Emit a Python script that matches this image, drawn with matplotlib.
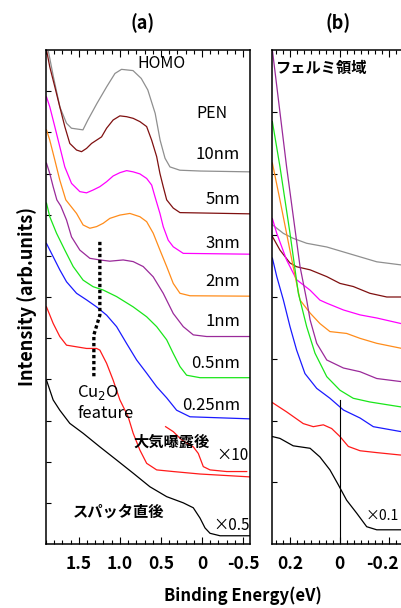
import matplotlib
matplotlib.use('Agg')
import matplotlib.pyplot as plt
from matplotlib.ticker import FixedLocator, MultipleLocator
from matplotlib.transforms import ScaledTranslation

plt.rcParams['font.family'] = ['Noto Sans CJK JP', 'DejaVu Sans']

# ---------------- panel (a): valence band, binding energy (eV) vs intensity ----------------
a_gray_e = [1.87, 1.81, 1.73, 1.65, 1.59, 1.45, 1.39, 1.28, 1.16, 1.06, 0.98, 0.84, 0.74, 0.66, 0.57, 0.51, 0.45, 0.39, 0.27, 0.02, -0.585]
a_gray_i = [11.96, 11.35, 10.61, 10.22, 10.10, 10.06, 10.30, 10.70, 11.11, 11.43, 11.53, 11.50, 11.31, 11.03, 10.46, 9.81, 9.37, 9.16, 9.08, 9.06, 9.04]

a_brown_e = [1.894, 1.854, 1.793, 1.732, 1.671, 1.610, 1.528, 1.467, 1.406, 1.345, 1.284, 1.223, 1.162, 1.082, 1.0, 0.918, 0.838, 0.756, 0.674, 0.613, 0.552, 0.512, 0.472, 0.430, 0.350, 0.268, -0.585]
a_brown_i = [12.0, 11.59, 11.11, 10.62, 10.14, 9.73, 9.57, 9.53, 9.61, 9.73, 9.81, 9.89, 10.10, 10.30, 10.40, 10.38, 10.34, 10.26, 10.14, 9.81, 9.41, 9.00, 8.68, 8.36, 8.16, 8.05, 8.02]

a_mag_e = [1.894, 1.854, 1.793, 1.732, 1.671, 1.589, 1.488, 1.406, 1.325, 1.244, 1.162, 1.082, 1.0, 0.918, 0.838, 0.756, 0.674, 0.613, 0.573, 0.512, 0.472, 0.411, 0.350, 0.228, -0.585]
a_mag_i = [10.86, 10.62, 10.14, 9.65, 9.16, 8.76, 8.56, 8.53, 8.60, 8.68, 8.80, 8.94, 9.02, 9.07, 9.04, 8.99, 8.88, 8.72, 8.44, 8.03, 7.71, 7.38, 7.22, 7.06, 7.04]

a_orange_e = [1.894, 1.854, 1.793, 1.732, 1.659, 1.528, 1.448, 1.366, 1.284, 1.204, 1.122, 1.0, 0.878, 0.756, 0.674, 0.594, 0.512, 0.430, 0.350, 0.268, 0.146, -0.585]
a_orange_i = [10.06, 9.81, 9.33, 8.84, 8.36, 8.03, 7.75, 7.67, 7.71, 7.79, 7.91, 7.99, 8.03, 7.95, 7.83, 7.55, 7.14, 6.74, 6.33, 6.09, 6.03, 6.02]

a_purple_e = [1.894, 1.854, 1.813, 1.768, 1.72, 1.650, 1.589, 1.488, 1.366, 1.244, 1.122, 0.960, 0.838, 0.716, 0.594, 0.472, 0.350, 0.228, 0.106, -0.057, -0.585]
a_purple_i = [9.25, 9.00, 8.68, 8.36, 8.21, 7.87, 7.46, 7.14, 6.94, 6.90, 6.87, 6.90, 6.86, 6.74, 6.49, 6.09, 5.60, 5.28, 5.08, 5.04, 5.04]

a_green_e = [1.894, 1.854, 1.772, 1.671, 1.569, 1.448, 1.326, 1.204, 1.040, 0.838, 0.674, 0.552, 0.430, 0.350, 0.268, 0.187, 0.024, -0.585]
a_green_i = [8.28, 7.95, 7.55, 7.14, 6.74, 6.41, 6.25, 6.17, 6.01, 5.76, 5.52, 5.28, 4.96, 4.63, 4.31, 4.10, 4.04, 4.04]

a_blue_e = [1.894, 1.813, 1.732, 1.650, 1.528, 1.406, 1.284, 1.162, 1.040, 0.918, 0.796, 0.674, 0.552, 0.430, 0.309, 0.146, -0.585]
a_blue_i = [7.30, 6.98, 6.66, 6.37, 6.09, 5.93, 5.76, 5.56, 5.28, 4.87, 4.47, 4.15, 3.82, 3.55, 3.25, 3.09, 3.04]

a_red_e = [1.894, 1.813, 1.732, 1.650, 1.528, 1.406, 1.284, 1.244, 1.162, 1.082, 1.0, 0.899, 0.838, 0.756, 0.674, 0.552, 0.350, 0.024, -0.585]
a_red_i = [5.76, 5.36, 5.04, 4.83, 4.79, 4.75, 4.75, 4.71, 4.39, 3.98, 3.50, 3.09, 2.69, 2.28, 1.96, 1.80, 1.76, 1.70, 1.63]

a_red10_e = [0.443, 0.350, 0.248, 0.106, 0.045, -0.016, -0.098, -0.301, -0.545]
a_red10_i = [2.85, 2.73, 2.53, 2.36, 2.20, 1.88, 1.80, 1.76, 1.76]

a_black_e = [1.894, 1.813, 1.732, 1.610, 1.448, 1.244, 1.040, 0.838, 0.634, 0.430, 0.228, 0.106, 0.024, -0.037, -0.098, -0.220, -0.585]
a_black_i = [3.98, 3.50, 3.25, 2.93, 2.69, 2.36, 2.04, 1.72, 1.39, 1.15, 1.00, 0.88, 0.63, 0.39, 0.26, 0.20, 0.20]

# Cu2O feature marker (dotted guide)
cu2o_e = [1.244, 1.244, 1.317, 1.317]
cu2o_i = [7.34, 5.56, 5.08, 4.06]

# ---------------- panel (b): Fermi region ----------------
b_purple_e = [0.274, 0.216, 0.161, 0.134, 0.120, 0.093, 0.052, -0.016, -0.084, -0.152, -0.251]
b_purple_i = [8.0, 6.11, 4.49, 3.95, 3.63, 3.25, 2.98, 2.85, 2.79, 2.68, 2.63]

b_green_e = [0.274, 0.243, 0.202, 0.168, 0.161, 0.134, 0.100, 0.052, -0.002, -0.056, -0.124, -0.251]
b_green_i = [6.84, 6.11, 5.03, 4.06, 3.95, 3.52, 3.09, 2.71, 2.49, 2.36, 2.30, 2.22]

b_orange_e = [0.274, 0.243, 0.216, 0.189, 0.161, 0.120, 0.080, 0.039, -0.029, -0.084, -0.152, -0.251]
b_orange_i = [6.17, 5.57, 5.03, 4.49, 3.95, 3.74, 3.57, 3.44, 3.41, 3.33, 3.25, 3.17]

b_mag_e = [0.274, 0.256, 0.216, 0.175, 0.120, 0.080, 0.052, -0.016, -0.084, -0.152, -0.251]
b_mag_i = [5.27, 5.03, 4.60, 4.28, 4.11, 3.95, 3.90, 3.79, 3.71, 3.66, 3.57]

b_gray_e = [0.274, 0.229, 0.189, 0.134, 0.052, -0.016, -0.084, -0.152, -0.251]
b_gray_i = [5.17, 5.03, 4.95, 4.87, 4.81, 4.73, 4.65, 4.57, 4.52]

b_brown_e = [0.274, 0.243, 0.202, 0.175, 0.120, 0.052, -0.002, -0.056, -0.124, -0.193, -0.251]
b_brown_i = [4.98, 4.76, 4.55, 4.49, 4.44, 4.33, 4.22, 4.17, 4.06, 4.00, 4.00]

b_blue_e = [0.274, 0.256, 0.229, 0.202, 0.175, 0.141, 0.093, 0.039, -0.016, -0.084, -0.138, -0.251]
b_blue_i = [4.63, 4.33, 3.95, 3.52, 3.14, 2.76, 2.52, 2.36, 2.17, 2.04, 1.90, 1.82]

b_red_e = [0.274, 0.216, 0.148, 0.107, 0.066, 0.032, -0.002, -0.036, -0.084, -0.152, -0.251]
b_red_i = [2.29, 2.14, 1.95, 1.90, 1.93, 1.87, 1.74, 1.58, 1.51, 1.48, 1.44]

b_black_e = [0.274, 0.243, 0.189, 0.120, 0.080, 0.039, 0.005, -0.029, -0.070, -0.111, -0.152, -0.251]
b_black_i = [1.74, 1.71, 1.59, 1.55, 1.41, 1.20, 0.96, 0.71, 0.50, 0.28, 0.23, 0.23]

ef_line_i = [0, 2.33]

a_ticks = [1.5, 1.0, 0.5, 0.0, -0.5]
a_ticklabels = ['1.5', '1.0', '0.5', '0', '-0.5']
b_ticks = [0.2, 0.0, -0.2]
b_ticklabels = ['0.2', '0', '-0.2']

thickness_labels = ['10nm', '5nm', '3nm', '2nm', '1nm', '0.5nm', '0.25nm']

C_GRAY = '#8f8f8f'
C_BROWN = '#7f1010'
C_MAG = '#ff00ff'
C_ORANGE = '#ff8c1a'
C_PURPLE = '#9a2a9a'
C_GREEN = '#19e619'
C_BLUE = '#1a1aff'
C_RED = '#ff1a1a'
C_BLACK = '#000000'

W, H = 401, 608
fig = plt.figure(figsize=(W / 100, H / 100), dpi=100)


def fx(x):
    return x / W


def fy(y):
    return 1 - y / H


def style_axis(ax):
    for s in ax.spines.values():
        s.set_linewidth(1.1)
    ax.tick_params(axis='both', which='both', direction='in', width=0.8)
    ax.tick_params(axis='x', which='major', length=5, top=True, labelsize=12.5, pad=8)
    ax.tick_params(axis='x', which='minor', length=3, top=True)
    ax.tick_params(axis='y', which='major', length=3.5, labelleft=False)
    for lab in ax.get_xticklabels():
        lab.set_fontweight('bold')


lw = 0.9

# panel (a)
ax_a = fig.add_axes([fx(46), 64 / H, 204 / W, 494 / H])
ax_a.plot(a_gray_e, a_gray_i, color=C_GRAY, lw=lw)
ax_a.plot(a_brown_e, a_brown_i, color=C_BROWN, lw=lw)
ax_a.plot(a_mag_e, a_mag_i, color=C_MAG, lw=lw)
ax_a.plot(a_orange_e, a_orange_i, color=C_ORANGE, lw=lw)
ax_a.plot(a_purple_e, a_purple_i, color=C_PURPLE, lw=lw)
ax_a.plot(a_green_e, a_green_i, color=C_GREEN, lw=lw)
ax_a.plot(a_blue_e, a_blue_i, color=C_BLUE, lw=lw)
ax_a.plot(a_red_e, a_red_i, color=C_RED, lw=lw)
ax_a.plot(a_red10_e, a_red10_i, color=C_RED, lw=lw)
ax_a.plot(a_black_e, a_black_i, color=C_BLACK, lw=lw)
ax_a.plot(cu2o_e, cu2o_i, color='black', lw=2.4, dashes=(1.0, 0.8))
ax_a.set_xlim(1.90, -0.585)
ax_a.set_ylim(0, 12)
ax_a.xaxis.set_major_locator(FixedLocator(a_ticks))
ax_a.set_xticklabels(a_ticklabels)
ax_a.xaxis.set_minor_locator(MultipleLocator(0.1))
ax_a.set_yticks(range(1, 12))
style_axis(ax_a)

# panel (b)
ax_b = fig.add_axes([fx(272), 64 / H, 129 / W, 494 / H])
ax_b.plot(b_gray_e, b_gray_i, color=C_GRAY, lw=lw)
ax_b.plot(b_brown_e, b_brown_i, color=C_BROWN, lw=lw)
ax_b.plot(b_mag_e, b_mag_i, color=C_MAG, lw=lw)
ax_b.plot(b_orange_e, b_orange_i, color=C_ORANGE, lw=lw)
ax_b.plot(b_purple_e, b_purple_i, color=C_PURPLE, lw=lw)
ax_b.plot(b_green_e, b_green_i, color=C_GREEN, lw=lw)
ax_b.plot(b_blue_e, b_blue_i, color=C_BLUE, lw=lw)
ax_b.plot(b_red_e, b_red_i, color=C_RED, lw=lw)
ax_b.plot(b_black_e, b_black_i, color=C_BLACK, lw=lw)
ax_b.plot([0, 0], ef_line_i, color='black', lw=0.8)
ax_b.set_xlim(0.2755, -0.251)
ax_b.set_ylim(0, 8)
ax_b.xaxis.set_major_locator(FixedLocator(b_ticks))
ax_b.set_xticklabels(b_ticklabels)
ax_b.xaxis.set_minor_locator(MultipleLocator(0.2 / 7))
ax_b.set_yticks(range(1, 8))
ax_b.spines['right'].set_visible(False)
style_axis(ax_b)
# the last label sits at the figure edge: nudge it in a little so it stays readable
last = ax_b.get_xticklabels()[-1]
last.set_transform(last.get_transform() + ScaledTranslation(-6 / 100, 0, fig.dpi_scale_trans))

# titles
fig.text(fx(143), fy(23), '(a)', ha='center', va='center', fontsize=13, fontweight='bold')
fig.text(fx(338), fy(23), '(b)', ha='center', va='center', fontsize=13, fontweight='bold')

# annotations panel (a)
fig.text(fx(161), fy(64), 'HOMO', ha='center', va='center', fontsize=11.5)
fig.text(fx(212), fy(113), 'PEN', ha='center', va='center', fontsize=11.5)
for lab, y in zip(thickness_labels, [155, 200, 243, 281, 322, 363, 405]):
    fig.text(fx(240), fy(y), lab, ha='right', va='center', fontsize=12)
fig.text(fx(77), fy(393), 'Cu$_2$O', ha='left', va='center', fontsize=12)
fig.text(fx(77), fy(413), 'feature', ha='left', va='center', fontsize=12)
fig.text(fx(133), fy(442), '大気曝露後', ha='left', va='center', fontsize=11, fontweight='bold')
fig.text(fx(216), fy(455), '×10', ha='left', va='center', fontsize=11)
fig.text(fx(73), fy(512), 'スパッタ直後', ha='left', va='center', fontsize=11, fontweight='bold')
fig.text(fx(213), fy(525), '×0.5', ha='left', va='center', fontsize=11)

# annotations panel (b)
fig.text(fx(272 + 94), fy(516), '×0.1', ha='left', va='center', fontsize=10)
fig.text(fx(275), fy(68), 'フェルミ領域', ha='left', va='center', fontsize=11, fontweight='bold')

# axis labels
fig.text(fx(27), fy(297), 'Intensity (arb.units)', rotation=90, ha='center', va='center',
         fontsize=13, fontweight='bold')
fig.text(fx(243), fy(596), 'Binding Energy(eV)', ha='center', va='center', fontsize=12, fontweight='bold')

fig.savefig('out.png', dpi=100)
